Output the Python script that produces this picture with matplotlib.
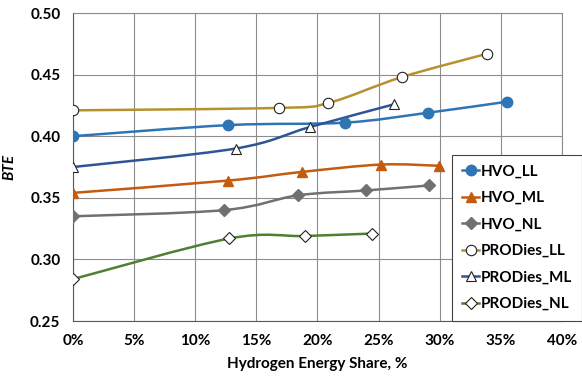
import numpy as np
import matplotlib
matplotlib.use("Agg")
import matplotlib.pyplot as plt
from matplotlib.path import Path
from matplotlib.patches import PathPatch
from matplotlib.lines import Line2D

plt.rcParams['font.family'] = ['Lato', 'DejaVu Sans']

# values
hvo_ll_x = [0.0, 0.127, 0.2225, 0.290, 0.355]
hvo_ll_y = [0.400, 0.409, 0.411, 0.419, 0.428]
hvo_ml_x = [0.0, 0.127, 0.187, 0.252, 0.299]
hvo_ml_y = [0.354, 0.364, 0.371, 0.377, 0.376]
hvo_nl_x = [0.0, 0.1235, 0.184, 0.240, 0.291]
hvo_nl_y = [0.335, 0.340, 0.352, 0.356, 0.360]
pro_ll_x = [0.0, 0.1685, 0.209, 0.269, 0.339]
pro_ll_y = [0.421, 0.423, 0.427, 0.448, 0.467]
pro_ml_x = [0.0, 0.133, 0.194, 0.263]
pro_ml_y = [0.375, 0.390, 0.4075, 0.426]
pro_nl_x = [0.0, 0.128, 0.190, 0.245]
pro_nl_y = [0.284, 0.317, 0.319, 0.321]

series = [
    ("HVO_LL", hvo_ll_x, hvo_ll_y, "#2E75B6", "o", True),
    ("HVO_ML", hvo_ml_x, hvo_ml_y, "#C55A11", "^", True),
    ("HVO_NL", hvo_nl_x, hvo_nl_y, "#707070", "D", True),
    ("PRODies_LL", pro_ll_x, pro_ll_y, "#B8912F", "o", False),
    ("PRODies_ML", pro_ml_x, pro_ml_y, "#2F5597", "^", False),
    ("PRODies_NL", pro_nl_x, pro_nl_y, "#4E8030", "D", False),
]


def smooth_path(xs, ys):
    # Excel-style smoothed line: cubic Bezier through the points
    p = np.column_stack([xs, ys])
    n = len(p)
    verts = [p[0]]
    codes = [Path.MOVETO]
    for i in range(n - 1):
        p0 = p[i - 1] if i > 0 else p[i]
        p3 = p[i + 2] if i + 2 < n else p[i + 1]
        c1 = p[i] + (p[i + 1] - p0) / 6
        c2 = p[i + 1] - (p3 - p[i]) / 6
        verts += [c1, c2, p[i + 1]]
        codes += [Path.CURVE4] * 3
    return Path(verts, codes)


fig = plt.figure(figsize=(5.82, 3.77), dpi=100)
ax = fig.add_axes([0.1254, 0.1485, 0.8402, 0.817])

handles = []
for name, xs, ys, color, mk, filled in series:
    ax.add_patch(PathPatch(smooth_path(xs, ys), fill=False, edgecolor=color,
                           lw=1.8, zorder=3))
    ms = 7.5 if mk in ("o", "^") else 6
    if filled:
        kw = dict(mfc=color, mec=color)
    else:
        kw = dict(mfc="white", mec="#222222", mew=0.8)
    ax.plot(xs, ys, ls="none", marker=mk, ms=ms, zorder=4, **kw)
    handles.append(Line2D([], [], color=color, lw=1.8, marker=mk, ms=ms, **kw))

ax.set_xlim(0, 0.40)
ax.set_ylim(0.25, 0.50)
ax.set_xticks(np.arange(0, 0.401, 0.05))
ax.set_xticklabels([f"{int(round(v * 100))}%" for v in np.arange(0, 0.401, 0.05)])
ax.set_yticks(np.arange(0.25, 0.501, 0.05))
ax.set_yticklabels([f"{v:.2f}" for v in np.arange(0.25, 0.501, 0.05)])
ax.grid(True, color="#8C8C8C", lw=0.8)
ax.set_axisbelow(True)
for s in ax.spines.values():
    s.set_color("#8C8C8C")
    s.set_linewidth(0.8)
ax.spines["left"].set_color("#595959")
ax.spines["bottom"].set_color("#595959")
ax.tick_params(length=0, labelsize=11, pad=9)
for lab in ax.get_xticklabels() + ax.get_yticklabels():
    lab.set_fontweight("bold")

ax.set_xlabel("Hydrogen Energy Share, %", fontsize=11, fontweight="bold", labelpad=7)
ax.set_ylabel("BTE", fontsize=11, fontweight="bold", style="italic", labelpad=10)

leg = fig.legend(handles, [s[0] for s in series], loc="upper left",
                 bbox_to_anchor=(0.777, 0.590), frameon=True, fancybox=False,
                 edgecolor="#444444", framealpha=1, handlelength=1.1,
                 handletextpad=0.15, labelspacing=0.82, borderpad=0.65,
                 borderaxespad=0, prop=dict(size=11, weight="bold"))
leg.get_frame().set_linewidth(0.8)

fig.savefig("out.png", dpi=100)
